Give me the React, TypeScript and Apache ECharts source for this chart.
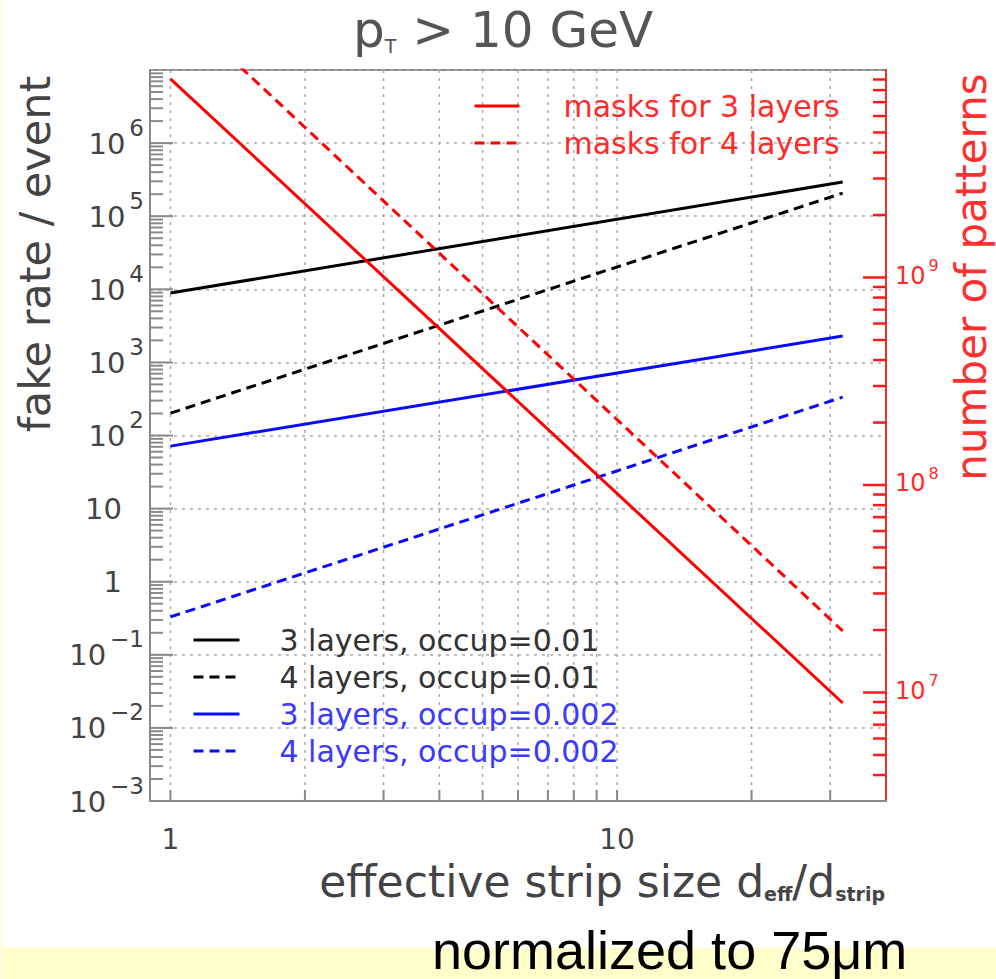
import React, { useEffect, useRef } from 'react';
import * as echarts from 'echarts';

// ---------------- data ----------------
const xEndpoints = [1, 32];
const fake3LayersOcc001 = [8.9e3, 2.93e5];
const fake4LayersOcc001 = [202, 2.07e5];
const fake3LayersOcc0002 = [71.6, 2.29e3];
const fake4LayersOcc0002 = [0.33, 335];
const masks3Layers = [9.06e9, 8.9e6];
const masks4Layers = [2.14e10, 1.98e7];

// axes
const xMin = 0.9;
const xMax = 40;
const yLeftMin = 1e-3;
const yLeftMax = 1e7;
const yRightMin = 3e6;
const yRightMax = 1e10;

// ticks / labels
const xTickValues = [1, 2, 3, 4, 5, 6, 7, 8, 9, 10, 20, 30];
const xLabelValues = [1, 10];
const leftDecades = [-3, -2, -1, 0, 1, 2, 3, 4, 5, 6];
const rightDecades = [6, 7, 8, 9];
const rightLabelDecades = [7, 8, 9];
const minorMantissas = [2, 3, 4, 5, 6, 7, 8, 9];

const FF = '"DejaVu Sans", sans-serif';
const GRAY_TXT = '#444';
const RED = '#ff0000';
const RED_TXT = '#ff2a2a';
const BLUE = '#0a0aff';
const BLUE_TXT = '#3a3aff';

const pairs = (ys: number[]) => xEndpoints.map((x, i) => [x, ys[i]]);

const near = (a: number, b: number) => Math.abs(a - b) <= Math.abs(b) * 1e-6;

function leftLabel(v: number): string {
  const e = Math.round(Math.log10(v));
  if (!near(v, Math.pow(10, e)) || leftDecades.indexOf(e) < 0) return '';
  if (e === 0) return '{b|1}{e| }';
  if (e === 1) return '{b|10}{e| }';
  const s = e < 0 ? '\u2212' + String(-e) : String(e);
  return '{b|10}{s|' + s + '}';
}

function rightLabel(v: number): string {
  const e = Math.round(Math.log10(v));
  if (!near(v, Math.pow(10, e)) || rightLabelDecades.indexOf(e) < 0) return '';
  return '{b|10}{s|' + e + '}';
}

function xLabel(v: number): string {
  for (const t of xLabelValues) if (near(v, t)) return String(t);
  return '';
}

function buildLeftTicks(): number[][] {
  const out: number[][] = [];
  for (const d of leftDecades) {
    out.push([xMin, Math.pow(10, d), 1]);
    for (const m of minorMantissas) out.push([xMin, m * Math.pow(10, d), 0]);
  }
  return out;
}

function buildRightTicks(): number[][] {
  const out: number[][] = [];
  for (const d of rightDecades) {
    const base = Math.pow(10, d);
    if (base > yRightMin && base < yRightMax) out.push([xMax, base, 1]);
    for (const m of minorMantissas) {
      const v = m * base;
      if (v > yRightMin * 1.0001 && v < yRightMax) out.push([xMax, v, 0]);
    }
  }
  return out;
}

function buildOption(): any {
  return {
    animation: false,
    backgroundColor: '#ffffff',
    title: {
      text: '{p|p}{t|T}{r| > 10 GeV}',
      left: 353,
      top: 8,
      padding: 0,
      textStyle: {
        fontWeight: 'normal',
        rich: {
          p: { fontFamily: FF, fontSize: 50, fontWeight: 'normal', lineHeight: 47, color: '#555', verticalAlign: 'bottom' },
          t: { fontFamily: FF, fontSize: 19, fontWeight: 'normal', lineHeight: 19, color: '#555', verticalAlign: 'bottom' },
          r: { fontFamily: FF, fontSize: 50, fontWeight: 'normal', lineHeight: 47, color: '#555', verticalAlign: 'bottom' },
        },
      },
    },
    grid: {
      left: 150,
      right: 110,
      top: 70,
      bottom: 178,
      show: true,
      borderColor: '#8a8a8a',
      borderWidth: 2,
      backgroundColor: 'transparent',
      containLabel: false,
    },
    legend: [
      {
        orient: 'vertical',
        left: 473,
        top: 88,
        padding: 0,
        itemGap: 1,
        itemWidth: 45,
        itemHeight: 14,
        selectedMode: false,
        itemStyle: { opacity: 0 },
        lineStyle: { width: 3 },
        textStyle: { fontFamily: FF, fontSize: 30, lineHeight: 36, padding: [0, 0, 0, 39], color: RED_TXT },
        data: [
          { name: 'masks for 3 layers', textStyle: { color: RED_TXT } },
          { name: 'masks for 4 layers', textStyle: { color: RED_TXT } },
        ],
      },
      {
        orient: 'vertical',
        left: 192,
        top: 622,
        padding: 0,
        itemGap: 1,
        itemWidth: 46,
        itemHeight: 14,
        selectedMode: false,
        itemStyle: { opacity: 0 },
        lineStyle: { width: 3 },
        textStyle: { fontFamily: FF, fontSize: 30, lineHeight: 36, padding: [0, 0, 0, 35], color: '#333' },
        data: [
          { name: '3 layers, occup=0.01', textStyle: { color: '#333' } },
          { name: '4 layers, occup=0.01', textStyle: { color: '#333' } },
          { name: '3 layers, occup=0.002', textStyle: { color: BLUE_TXT } },
          { name: '4 layers, occup=0.002', textStyle: { color: BLUE_TXT } },
        ],
      },
    ],
    xAxis: {
      type: 'log',
      logBase: 10,
      min: xMin,
      max: xMax,
      position: 'bottom',
      axisLine: { show: true, lineStyle: { color: '#8a8a8a', width: 2 } },
      axisTick: { show: false },
      splitLine: { show: false },
      axisLabel: {
        formatter: xLabel,
        fontFamily: FF,
        fontSize: 28,
        lineHeight: 30,
        color: GRAY_TXT,
        margin: 23,
        showMinLabel: true,
        showMaxLabel: true,
      },
    },
    yAxis: [
      {
        type: 'log',
        logBase: 10,
        min: yLeftMin,
        // a hair under 1e7 so that the log scale keeps one tick per decade
        max: yLeftMax * 0.99999,
        splitNumber: 10,
        position: 'left',
        axisLine: { show: true, lineStyle: { color: '#8a8a8a', width: 2 } },
        axisTick: { show: false },
        splitLine: { show: true, lineStyle: { color: '#aaaaaa', width: 1.5, type: [3, 5] } },
        axisLabel: {
          formatter: leftLabel,
          margin: 6,
          padding: [0, 0, 12, 0],
          fontFamily: FF,
          color: GRAY_TXT,
          rich: {
            b: { fontFamily: FF, fontSize: 29, lineHeight: 42, verticalAlign: 'bottom', color: GRAY_TXT },
            s: { fontFamily: FF, fontSize: 23, lineHeight: 20, verticalAlign: 'top', padding: [0, 0, 0, 4], color: GRAY_TXT },
            e: { fontFamily: FF, fontSize: 23, lineHeight: 20, verticalAlign: 'top', width: 22, color: GRAY_TXT },
          },
        },
      },
      {
        type: 'log',
        logBase: 10,
        min: yRightMin,
        max: yRightMax,
        position: 'right',
        axisLine: { show: true, lineStyle: { color: '#e83030', width: 2 } },
        axisTick: { show: false },
        splitLine: { show: false },
        axisLabel: {
          formatter: rightLabel,
          margin: 9,
          padding: [0, 0, 10, 0],
          fontFamily: FF,
          color: RED_TXT,
          rich: {
            b: { fontFamily: FF, fontSize: 24, lineHeight: 30, verticalAlign: 'bottom', color: RED_TXT },
            s: { fontFamily: FF, fontSize: 16, lineHeight: 16, verticalAlign: 'top', padding: [0, 0, 0, 3], color: RED_TXT },
          },
        },
      },
    ],
    graphic: [
      { type: 'rect', shape: { x: 0, y: 948, width: 996, height: 31 }, style: { fill: '#ffffcc' }, z: -10, silent: true },
      { type: 'rect', shape: { x: 0, y: 0, width: 3, height: 979 }, style: { fill: '#fffbe0' }, z: -10, silent: true },
      {
        type: 'text',
        x: 35,
        y: 254,
        rotation: Math.PI / 2,
        silent: true,
        style: {
          text: 'fake rate / event',
          fontFamily: FF,
          fontSize: 43,
          fill: GRAY_TXT,
          align: 'center',
          verticalAlign: 'middle',
          textAlign: 'center',
          textVerticalAlign: 'middle',
        },
      },
      {
        type: 'text',
        x: 971,
        y: 277,
        rotation: Math.PI / 2,
        silent: true,
        style: {
          text: 'number of patterns',
          fontFamily: FF,
          fontSize: 42,
          fill: '#ff3030',
          align: 'center',
          verticalAlign: 'middle',
          textAlign: 'center',
          textVerticalAlign: 'middle',
        },
      },
      {
        type: 'text',
        x: 885,
        y: 878,
        silent: true,
        style: {
          text: '{m|effective strip size d}{s|eff}{m|/d}{s|strip}',
          align: 'right',
          verticalAlign: 'middle',
          textAlign: 'right',
          textVerticalAlign: 'middle',
          fill: GRAY_TXT,
          rich: {
            m: { fontFamily: FF, fontSize: 44, lineHeight: 50, verticalAlign: 'bottom', fill: GRAY_TXT, color: GRAY_TXT },
            s: { fontFamily: FF, fontSize: 19, fontWeight: 'bold', lineHeight: 20, verticalAlign: 'bottom', fill: GRAY_TXT, color: GRAY_TXT },
          },
        },
      },
      {
        type: 'text',
        x: 432,
        y: 950,
        silent: true,
        style: {
          text: 'normalized to 75\u03bcm',
          fontFamily: '"Liberation Sans", Arial, sans-serif',
          fontSize: 54,
          fill: '#000',
          align: 'left',
          verticalAlign: 'middle',
          textAlign: 'left',
          textVerticalAlign: 'middle',
        },
      },
    ],
    series: [
      {
        type: 'custom',
        name: 'xgrid',
        xAxisIndex: 0,
        yAxisIndex: 0,
        silent: true,
        z: 1,
        data: xTickValues.map((v) => [v, yLeftMin]),
        renderItem: (params: any, api: any) => {
          const v = api.value(0);
          const top = api.coord([v, yLeftMax]);
          const bot = api.coord([v, yLeftMin]);
          return {
            type: 'group',
            children: [
              {
                type: 'line',
                shape: { x1: top[0], y1: top[1], x2: bot[0], y2: bot[1] },
                style: { stroke: '#aaaaaa', lineWidth: 1.5, lineDash: [3, 5] },
              },
              {
                type: 'line',
                shape: { x1: bot[0], y1: bot[1], x2: bot[0], y2: bot[1] - 11 },
                style: { stroke: '#8a8a8a', lineWidth: 2 },
              },
            ],
          };
        },
      },
      {
        type: 'custom',
        name: 'leftTicks',
        xAxisIndex: 0,
        yAxisIndex: 0,
        silent: true,
        z: 6,
        data: buildLeftTicks(),
        renderItem: (params: any, api: any) => {
          const p = api.coord([api.value(0), api.value(1)]);
          const len = api.value(2) ? 23 : 13;
          return {
            type: 'line',
            shape: { x1: p[0], y1: p[1], x2: p[0] + len, y2: p[1] },
            style: { stroke: '#8a8a8a', lineWidth: 2 },
          };
        },
      },
      {
        type: 'custom',
        name: 'rightTicks',
        xAxisIndex: 0,
        yAxisIndex: 1,
        silent: true,
        z: 6,
        data: buildRightTicks(),
        renderItem: (params: any, api: any) => {
          const p = api.coord([api.value(0), api.value(1)]);
          const len = api.value(2) ? 23 : 13;
          return {
            type: 'line',
            shape: { x1: p[0], y1: p[1], x2: p[0] - len, y2: p[1] },
            style: { stroke: '#ff1a1a', lineWidth: 2.5 },
          };
        },
      },
      {
        name: '3 layers, occup=0.01',
        type: 'line',
        yAxisIndex: 0,
        data: pairs(fake3LayersOcc001),
        symbol: 'none',
        silent: true,
        z: 3,
        itemStyle: { color: '#000' },
        lineStyle: { color: '#000', width: 3, type: 'solid' },
      },
      {
        name: '4 layers, occup=0.01',
        type: 'line',
        yAxisIndex: 0,
        data: pairs(fake4LayersOcc001),
        symbol: 'none',
        silent: true,
        z: 3,
        itemStyle: { color: '#000' },
        lineStyle: { color: '#000', width: 3, type: [10, 6] },
      },
      {
        name: '3 layers, occup=0.002',
        type: 'line',
        yAxisIndex: 0,
        data: pairs(fake3LayersOcc0002),
        symbol: 'none',
        silent: true,
        z: 3,
        itemStyle: { color: BLUE },
        lineStyle: { color: BLUE, width: 3, type: 'solid' },
      },
      {
        name: '4 layers, occup=0.002',
        type: 'line',
        yAxisIndex: 0,
        data: pairs(fake4LayersOcc0002),
        symbol: 'none',
        silent: true,
        z: 3,
        itemStyle: { color: BLUE },
        lineStyle: { color: BLUE, width: 3, type: [10, 6] },
      },
      {
        name: 'masks for 3 layers',
        type: 'line',
        yAxisIndex: 1,
        data: pairs(masks3Layers),
        symbol: 'none',
        silent: true,
        clip: true,
        z: 3,
        itemStyle: { color: RED },
        lineStyle: { color: RED, width: 3, type: 'solid' },
      },
      {
        name: 'masks for 4 layers',
        type: 'line',
        yAxisIndex: 1,
        data: pairs(masks4Layers),
        symbol: 'none',
        silent: true,
        clip: true,
        z: 3,
        itemStyle: { color: RED },
        lineStyle: { color: RED, width: 3, type: [10, 6] },
      },
    ],
  };
}

export default function App() {
  const ref = useRef<HTMLDivElement>(null);
  useEffect(() => {
    if (!ref.current) return;
    const chart = echarts.init(ref.current, null, { renderer: 'svg' });
    chart.setOption(buildOption());
    return () => {
      chart.dispose();
    };
  }, []);
  return (
    <div
      ref={ref}
      style={{ position: 'fixed', left: 0, top: 0, width: 996, height: 979, background: '#ffffff' }}
    />
  );
}
